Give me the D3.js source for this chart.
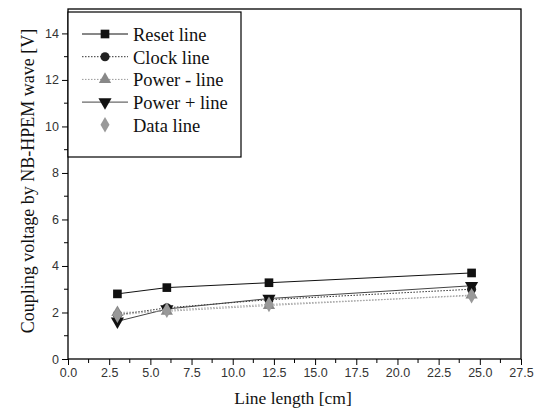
<!DOCTYPE html>
<html><head><meta charset="utf-8">
<script src="https://cdn.jsdelivr.net/npm/d3@7"></script>
<style>body{margin:0;background:#fff}svg{display:block}</style>
</head><body>
<script>
const lengths = [3, 6, 12.2, 24.5];
const seriesNames = ["Reset line", "Clock line", "Power - line", "Power + line", "Data line"];
const resetVals = [2.8, 3.07, 3.28, 3.7];
const clockVals = [1.9, 2.2, 2.55, 3.0];
const powerMinusVals = [2.0, 2.05, 2.3, 2.75];
const powerPlusVals = [1.62, 2.15, 2.6, 3.15];
const dataVals = [1.88, 2.1, 2.35, 2.72];
const xTicks = [0, 2.5, 5, 7.5, 10, 12.5, 15, 17.5, 20, 22.5, 25, 27.5];
const yTicks = [0, 2, 4, 6, 8, 10, 12, 14];

const W = 542, H = 419;
const m = {l: 68, r: 21, t: 9, b: 60};
const SERIF = "Liberation Serif";
const svg = d3.select("body").append("svg").attr("width", W).attr("height", H);
const x = d3.scaleLinear().domain([0, 27.5]).range([m.l, W - m.r]);
const y = d3.scaleLinear().domain([0, 15.05]).range([H - m.b, m.t]);

const styles = [
  {vals: resetVals, line: "#111", dash: null, sym: d3.symbolSquare, fill: "#111", size: 75, rot: 0},
  {vals: clockVals, line: "#333", dash: "1.5,1.5", sym: d3.symbolCircle, fill: "#222", size: 65, rot: 0},
  {vals: powerMinusVals, line: "#999", dash: "1.5,1.5", sym: d3.symbolTriangle, fill: "#888", size: 65, rot: 0},
  {vals: powerPlusVals, line: "#444", dash: null, sym: d3.symbolTriangle, fill: "#111", size: 75, rot: 180},
  {vals: dataVals, line: "#aaa", dash: "1.5,1.5", sym: d3.symbolDiamond, fill: "#999", size: 70, rot: 0}
];

// axes
const fontTick = "Liberation Sans";
const xAxis = d3.axisBottom(x).tickValues(xTicks).tickFormat(d3.format(".1f")).tickSize(6).tickPadding(3);
const gx = svg.append("g").attr("transform", `translate(0,${H - m.b})`).call(xAxis);
const xMinor = d3.range(1.25, 27.5, 2.5);
gx.selectAll(".minor").data(xMinor).enter().append("line").attr("class", "minor")
  .attr("x1", d => x(d)).attr("x2", d => x(d)).attr("y1", 0).attr("y2", 4).attr("stroke", "#000");
const yAxis = d3.axisLeft(y).tickValues(yTicks).tickFormat(d3.format("d")).tickSize(6).tickPadding(3);
const gy = svg.append("g").attr("transform", `translate(${m.l},0)`).call(yAxis);
const yMinor = d3.range(1, 15, 2);
gy.selectAll(".minor").data(yMinor).enter().append("line").attr("class", "minor")
  .attr("y1", d => y(d)).attr("y2", d => y(d)).attr("x1", 0).attr("x2", -4).attr("stroke", "#000");
svg.selectAll(".domain").remove();
svg.selectAll(".tick text").attr("font-family", fontTick).attr("font-size", 12.5).attr("fill", "#333");

// frame
svg.append("rect").attr("x", m.l).attr("y", m.t).attr("width", W - m.r - m.l).attr("height", H - m.b - m.t)
  .attr("fill", "none").attr("stroke", "#000").attr("stroke-width", 1.3);

// lines & markers
const line = d3.line().x((d, i) => x(lengths[i])).y(d => y(d));
styles.forEach(s => {
  svg.append("path").datum(s.vals).attr("d", line).attr("fill", "none")
    .attr("stroke", s.line).attr("stroke-width", 1).attr("stroke-dasharray", s.dash);
});
styles.forEach(s => {
  svg.append("g").selectAll("path").data(s.vals).enter().append("path")
    .attr("d", d3.symbol().type(s.sym).size(s.size))
    .attr("transform", (d, i) => `translate(${x(lengths[i])},${y(d)}) rotate(${s.rot})`)
    .attr("fill", s.fill);
});

// legend
const lg = svg.append("g");
lg.append("rect").attr("x", 68).attr("y", 12).attr("width", 173).attr("height", 145)
  .attr("fill", "#fff").attr("stroke", "#000").attr("stroke-width", 1.2);
seriesNames.forEach((name, i) => {
  const s = styles[i];
  const yy = 34 + i * 22.7;
  if (i < 4) {
    lg.append("line").attr("x1", 82).attr("x2", 128).attr("y1", yy).attr("y2", yy)
      .attr("stroke", s.line).attr("stroke-dasharray", s.dash);
  }
  lg.append("path").attr("d", d3.symbol().type(s.sym).size(s.size))
    .attr("transform", `translate(105,${yy}) rotate(${s.rot})`).attr("fill", s.fill);
  lg.append("text").attr("font-family", SERIF).attr("x", 133).attr("y", yy + 7).text(name)
    .attr("font-size", 18.5).attr("fill", "#111");
});

// titles
svg.append("text").attr("font-family", SERIF).attr("x", 293).attr("y", 404).attr("text-anchor", "middle")
  .attr("font-size", 17.5).attr("fill", "#111").text("Line length [cm]");
svg.append("text").attr("font-family", SERIF).attr("transform", `translate(34,181) rotate(-90)`).attr("text-anchor", "middle")
  .attr("font-size", 18).attr("fill", "#111").text("Coupling voltage by NB-HPEM wave [V]");
</script>
</body></html>
